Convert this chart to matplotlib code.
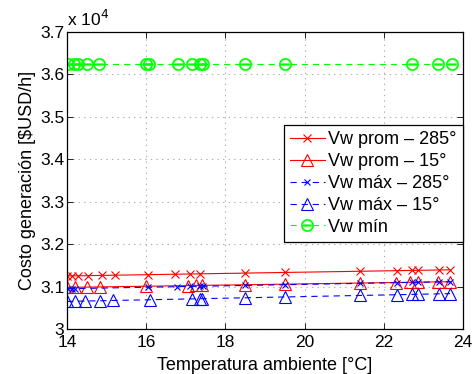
import matplotlib
matplotlib.use("Agg")
import matplotlib.pyplot as plt
import numpy as np

# Temperatura ambiente [°C] y costo de generación [$USD/h]
t_prom_285 = [14.0, 14.12, 14.29, 14.54, 14.88, 15.21, 16.05, 16.73, 17.1, 17.36,
              18.5, 19.5, 21.4, 22.33, 22.7, 22.87, 23.38, 23.67]
c_prom_285 = [31250, 31252, 31254, 31258, 31263, 31268, 31281, 31291, 31297, 31300,
              31318, 31333, 31361, 31375, 31381, 31383, 31391, 31395]

t_prom_15 = [14.0, 14.2, 14.5, 14.83, 16.0, 17.06, 17.27, 17.4, 18.5, 19.5,
             21.4, 22.3, 22.66, 22.87, 23.37, 23.67]
c_prom_15 = [30980, 30983, 30987, 30992, 31008, 31023, 31026, 31028, 31043, 31057,
             31084, 31096, 31101, 31104, 31111, 31115]

t_max_285 = [14.03, 14.12, 14.2, 16.05, 16.77, 17.1, 17.36, 17.44, 18.5, 19.5,
             21.4, 22.33, 22.7, 22.87, 23.38, 23.67]
c_max_285 = [30951, 30952, 30953, 30985, 30997, 31003, 31007, 31008, 31027, 31044,
             31076, 31092, 31098, 31101, 31109, 31114]

t_max_15 = [14.0, 14.2, 14.45, 14.83, 15.17, 16.1, 17.15, 17.36, 17.4, 18.5, 19.5,
            21.4, 22.33, 22.7, 22.87, 23.38, 23.67]
c_max_15 = [30650, 30654, 30659, 30666, 30672, 30690, 30710, 30714, 30715, 30736, 30755,
            30791, 30808, 30815, 30819, 30828, 30834]

t_min = [14.03, 14.18, 14.29, 14.5, 14.8, 16.0, 16.08, 16.8, 17.15, 17.36, 17.44,
         18.5, 19.5, 22.7, 23.37, 23.71]
c_min = [36235] * len(t_min)

labels = ['Vw prom \u2013 285°', 'Vw prom \u2013 15°', 'Vw máx \u2013 285°',
          'Vw máx \u2013 15°', 'Vw mín']

plt.rcParams['font.family'] = ['Liberation Sans', 'DejaVu Sans']
plt.rcParams['lines.scale_dashes'] = False

fig = plt.figure(figsize=(4.73, 3.74), dpi=100)
ax = fig.add_axes([0.1416, 0.1203, 0.8374, 0.7941])

dash = (0, (4.5, 3.5))
scale = 1e4
ax.plot(t_prom_285, np.array(c_prom_285) / scale, color='#ff0000', lw=0.8,
        marker='x', ms=6, mew=0.8, label=labels[0])
ax.plot(t_prom_15, np.array(c_prom_15) / scale, color='#ff0000', lw=0.8,
        marker='^', ms=8, mew=0.8, mfc='none', label=labels[1])
ax.plot(t_max_285, np.array(c_max_285) / scale, color='#0000ff', lw=0.8, ls=dash,
        marker='x', ms=5, mew=0.8, label=labels[2])
ax.plot(t_max_15, np.array(c_max_15) / scale, color='#0000ff', lw=0.8, ls=dash,
        marker='^', ms=8, mew=0.8, mfc='none', label=labels[3])
ax.plot(t_min, np.array(c_min) / scale, color='#00ff00', lw=0.8, ls=dash,
        marker='$\u2296$', ms=9, mew=0.3, label=labels[4])

ax.set_xlim(14, 24)
ax.set_ylim(3.0, 3.7)
ax.set_xticks(np.arange(14, 25, 2))
ax.set_yticks(np.arange(3.0, 3.71, 0.1))
ax.set_yticklabels(['3', '3.1', '3.2', '3.3', '3.4', '3.5', '3.6', '3.7'])
ax.tick_params(direction='in', top=True, right=True, labelsize=12.5, length=4,
               width=0.6, pad=2)
ax.tick_params(axis='x', pad=4)
ax.grid(True, ls=(0, (1, 3)), color='#b0b0b0', lw=0.8)
for s in ax.spines.values():
    s.set_linewidth(0.9)

ax.set_xlabel('Temperatura ambiente [°C]', fontsize=13, labelpad=5)
ax.set_ylabel('Costo generación [$USD/h]', fontsize=13, labelpad=3)
ax.text(0.0, 1.01, 'x 10$^4$', transform=ax.transAxes, fontsize=12.5,
        ha='left', va='bottom')

leg = ax.legend(loc='upper right', bbox_to_anchor=(1.0, 0.687), borderaxespad=0,
                fontsize=13, fancybox=False, framealpha=1, edgecolor='black',
                handlelength=1.9, handletextpad=0.2, labelspacing=0.27,
                borderpad=0.35)
leg.get_frame().set_linewidth(0.9)

fig.savefig('out.png', dpi=100)
